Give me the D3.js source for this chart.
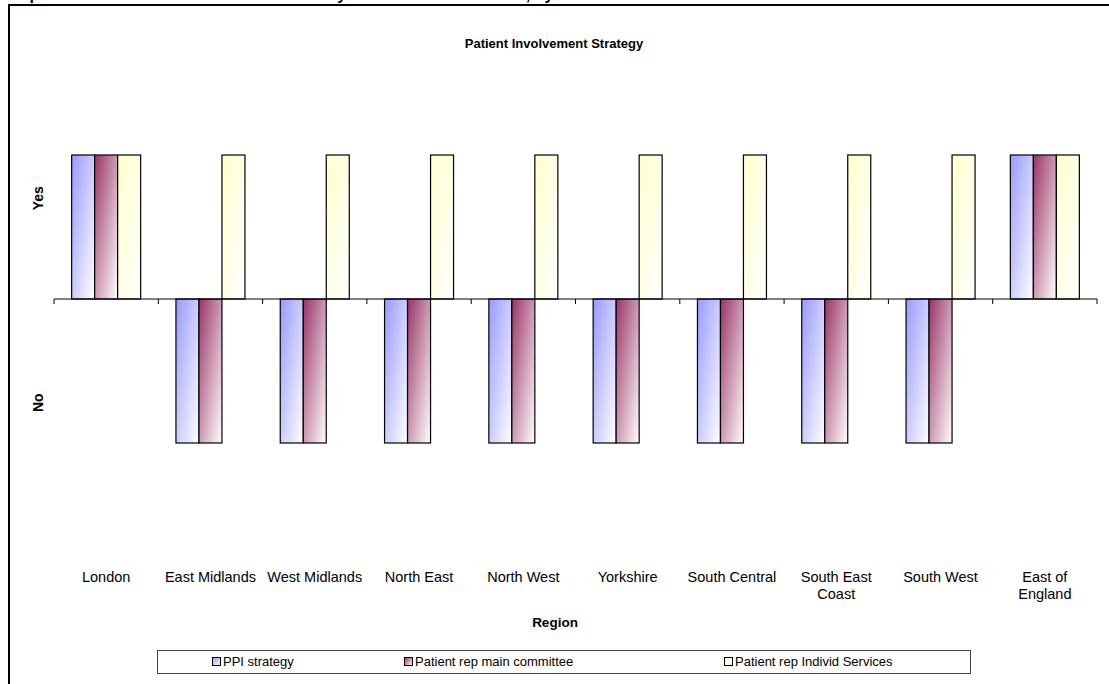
<!DOCTYPE html>
<html lang="en">
<head>
    <title>Patient Involvement Strategy</title>
    <meta charset="UTF-8">
    <script src="https://cdn.jsdelivr.net/npm/d3@7"></script>
    <style>
        body{margin:0; background:#fff;}
        svg{display:block; font-family:Arial, "Liberation Sans", sans-serif;}
    </style>
</head>
<body>
    <div id="chart"></div>
    <script>
        // data (1 = Yes, -1 = No)
        var regions = ['London','East Midlands','West Midlands','North East','North West','Yorkshire','South Central','South East Coast','South West','East of England'];
        var seriesNames = ['PPI strategy','Patient rep main committee','Patient rep Individ Services'];
        var ppiStrategy = [1,-1,-1,-1,-1,-1,-1,-1,-1,1];
        var repMainCommittee = [1,-1,-1,-1,-1,-1,-1,-1,-1,1];
        var repIndividServices = [1,1,1,1,1,1,1,1,1,1];
        var yLabels = [{text:'Yes', v:0.7},{text:'No', v:-0.72}];
        var seriesColors = ['#9999ff','#993366','#ffffcc'];

        var width = 1109, height = 684;
        var svg = d3.select('#chart').append('svg')
            .attr('width', width).attr('height', height);

        // gradients like the Excel fill
        var defs = svg.append('defs');
        seriesColors.forEach(function(c, i){
            var g = defs.append('linearGradient').attr('id','grad'+i)
                .attr('x1',0).attr('y1',0).attr('x2',1).attr('y2',1);
            g.append('stop').attr('offset','0%').attr('stop-color',c);
            g.append('stop').attr('offset','100%').attr('stop-color','#ffffff');
        });

        // heading above the frame, mostly off the page
        svg.append('text').attr('x',2).attr('y',-0.5)
            .style('font-size','16px').style('font-weight','bold')
            .text('Graph 6: Has the Trust an Involvement Policy in Place at Board Level, by Area');

        // outer frame
        svg.append('rect').attr('x',9).attr('y',5)
            .attr('width',1200).attr('height',800)
            .attr('fill','none').attr('stroke','#000').attr('stroke-width',2);

        svg.append('text').attr('x',554).attr('y',48)
            .attr('text-anchor','middle')
            .style('font-size','13px').style('font-weight','bold')
            .text('Patient Involvement Strategy');

        var x0 = d3.scaleBand().domain(regions).range([54,1097]);
        var step = x0.step();
        var x1 = d3.scaleBand().domain(seriesNames).range([step*0.1692, step*0.8308]);
        var y = d3.scaleLinear().domain([-1,1]).range([443,155]);

        var series = [ppiStrategy, repMainCommittee, repIndividServices];
        var rows = [];
        regions.forEach(function(r, i){
            series.forEach(function(s, j){
                rows.push({region:r, name:seriesNames[j], idx:j, v:s[i]});
            });
        });

        svg.append('g').selectAll('rect')
            .data(rows)
            .enter()
            .append('rect')
            .attr('x', function(d){ return x0(d.region) + x1(d.name); })
            .attr('width', x1.bandwidth())
            .attr('y', function(d){ return Math.min(y(d.v), y(0)); })
            .attr('height', function(d){ return Math.abs(y(d.v) - y(0)); })
            .attr('fill', function(d){ return 'url(#grad'+d.idx+')'; })
            .attr('stroke','#000').attr('stroke-width',1.2);

        // category axis at zero
        var xAxis = d3.axisBottom(x0).tickSize(0).tickFormat('');
        var ax = svg.append('g').attr('transform','translate(0,'+y(0)+')').call(xAxis);
        ax.select('.domain').attr('stroke','#000').attr('d','M54,0H1097');
        ax.selectAll('.tm').data(d3.range(regions.length+1)).enter()
            .append('line').attr('class','tm')
            .attr('x1', function(d){ return 54 + d*step; })
            .attr('x2', function(d){ return 54 + d*step; })
            .attr('y1',0).attr('y2',5).attr('stroke','#000');

        // category labels at bottom, wrapped when too wide
        var labels = svg.append('g').style('font-size','14.5px');
        regions.forEach(function(r){
            var t = labels.append('text').attr('text-anchor','middle')
                .attr('x', x0(r) + step/2).attr('y', 582);
            t.text(r);
            if (t.node().getComputedTextLength() > step - 4) {
                var words = r.split(' ');
                var last = words.pop();
                t.text(null);
                t.append('tspan').attr('x', x0(r)+step/2).attr('dy',0).text(words.join(' '));
                t.append('tspan').attr('x', x0(r)+step/2).attr('dy',17).text(last);
            }
        });

        svg.append('text').attr('x',555).attr('y',627)
            .attr('text-anchor','middle')
            .style('font-size','13.5px').style('font-weight','bold')
            .text('Region');

        // Yes / No labels
        svg.append('g').selectAll('text')
            .data(yLabels).enter().append('text')
            .attr('transform', function(d){ return 'translate(43,'+y(d.v)+') rotate(-90)'; })
            .attr('text-anchor','middle')
            .style('font-size','14px').style('font-weight','bold')
            .text(function(d){ return d.text; });

        // legend
        var lg = svg.append('g');
        lg.append('rect').attr('x',157.5).attr('y',650.5).attr('width',813).attr('height',23)
            .attr('fill','#fff').attr('stroke','#444').attr('stroke-width',1);
        var legendX = [212, 404, 724];
        seriesNames.forEach(function(n, i){
            lg.append('rect').attr('x',legendX[i]+0.5).attr('y',657.5).attr('width',8).attr('height',8)
                .attr('fill','url(#grad'+i+')').attr('stroke','#000');
            lg.append('text').attr('x',legendX[i]+11).attr('y',666)
                .style('font-size','13px').text(n);
        });
    </script>
</body>
</html>
